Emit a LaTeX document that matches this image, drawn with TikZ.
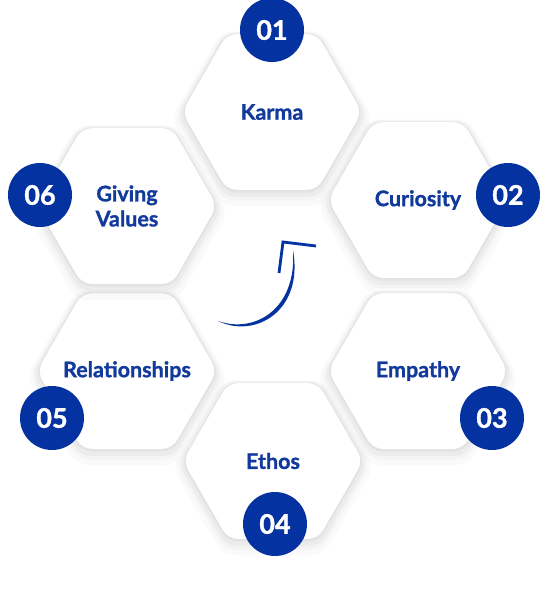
\documentclass[tikz,border=0pt]{standalone}
\usepackage{fontspec}
\setmainfont{Lato}[BoldFeatures={FakeBold=1.2}]
\usepackage{xcolor}
\usetikzlibrary{shapes.geometric,shadows}
\definecolor{navy}{RGB}{4,50,160}
\definecolor{labelblue}{RGB}{18,58,156}

\begin{document}
\begin{tikzpicture}[x=1pt,y=-1pt,
  hex/.style={regular polygon,regular polygon sides=6,minimum size=180pt,inner sep=-40pt,
    rounded corners=10pt,fill=white,align=center,text=labelblue,
    font=\fontsize{21.5}{25}\selectfont\bfseries,
    general shadow={fill=black,opacity=.02,shadow scale=1.12,shadow yshift=-6pt},
    general shadow={fill=black,opacity=.025,shadow scale=1.08,shadow yshift=-4pt},
    general shadow={fill=black,opacity=.03,shadow scale=1.05,shadow yshift=-3pt},
    general shadow={fill=black,opacity=.035,shadow scale=1.02,shadow yshift=-1pt}},
  num/.style={circle,fill=navy,minimum size=64pt,inner sep=0pt,text=white,
    font=\fontsize{27}{27}\selectfont\bfseries}]
  \fill[white] (0,0) rectangle (545,596);
  \useasboundingbox (0,0) rectangle (545,596);
  % hexagons
  \node[hex] (karma) at (272,112) {Karma};
  \node[hex] (curiosity) at (418,200) {Curiosity};
  \node[hex] (empathy) at (418,371) {Empathy};
  \node[hex] (ethos) at (273,461) {Ethos};
  \node[hex] (relations) at (127,371) {Relationships};
  \node[hex] (giving) at (127,206) {Giving\\Values};
  % numbers
  \node[num] (n1) at (272,30) {01};
  \node[num] (n2) at (508,195) {02};
  \node[num] (n3) at (492,418) {03};
  \node[num] (n4) at (275,524) {04};
  \node[num] (n5) at (52,418) {05};
  \node[num] (n6) at (40,195) {06};
  % turning arrow
  \fill[navy] (218,321) .. controls (255,339) and (304,311) .. (293,250)
    .. controls (297,309) and (255,334) .. (218,321) -- cycle;
  \draw[navy,line width=2.8pt,miter limit=20] (279,273) -- (283,242) -- (316,246);
\end{tikzpicture}
\end{document}
